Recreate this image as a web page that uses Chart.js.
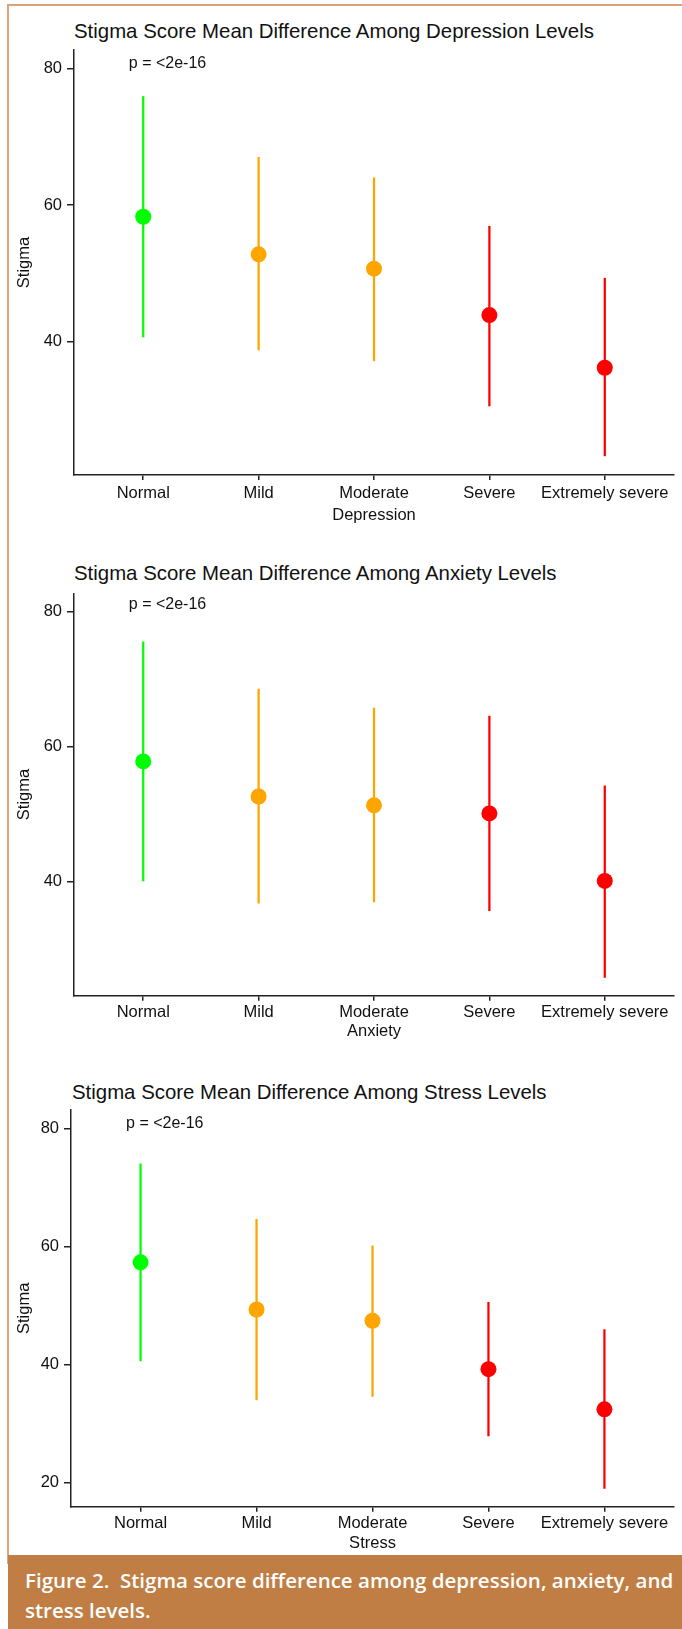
<!DOCTYPE html>
<html>
<head>
<meta charset="utf-8">
<script src="https://cdn.jsdelivr.net/npm/chart.js@4.4.1/dist/chart.umd.min.js"></script>
<style>
html,body{margin:0;padding:0;background:#fff;}
body{width:682px;height:1629px;position:relative;overflow:hidden;font-family:"Liberation Sans",Arial,sans-serif;}
.frame{position:absolute;left:7px;top:4px;width:690px;height:1560px;border-left:2px solid #d9a479;border-top:2px solid #d9a479;box-sizing:border-box;}
.panel{position:absolute;left:0;width:682px;}
.ptitle{position:absolute;font-size:20.4px;line-height:24px;color:#111;white-space:nowrap;}
.caption{position:absolute;left:8px;top:1555px;width:674px;height:74px;box-sizing:border-box;background:#c07e44;color:#fff;font-family:"Open Sans",sans-serif;font-weight:600;font-size:20.5px;line-height:30px;padding:10px 0 0 17px;white-space:pre;}
</style>
</head>
<body>
<div class="frame"></div>
<div class="ptitle" style="left:74px;top:19px;">Stigma Score Mean Difference Among Depression Levels</div>
<div class="panel" style="top:0;height:540px;"><canvas id="c1" width="682" height="540"></canvas></div>
<div class="ptitle" style="left:74px;top:561px;">Stigma Score Mean Difference Among Anxiety Levels</div>
<div class="panel" style="top:540px;height:520px;"><canvas id="c2" width="682" height="520"></canvas></div>
<div class="ptitle" style="left:72px;top:1080px;">Stigma Score Mean Difference Among Stress Levels</div>
<div class="panel" style="top:1060px;height:495px;"><canvas id="c3" width="682" height="495"></canvas></div>
<div class="caption">Figure 2.  Stigma score difference among depression, anxiety, and
stress levels.</div>
<script>
// ---- data ----
const categories = ["Normal", "Mild", "Moderate", "Severe", "Extremely severe"];
const levelColors = ["#00ff00", "#ffa500", "#ffa500", "#ff0000", "#ff0000"];

const depMean = [58.3, 52.8, 50.7, 43.9, 36.2];
const depLow  = [40.7, 38.8, 37.2, 30.6, 23.3];
const depHigh = [75.9, 67.0, 64.0, 56.9, 49.3];

const anxMean = [57.8, 52.6, 51.3, 50.1, 40.1];
const anxLow  = [40.1, 36.8, 37.0, 35.7, 25.8];
const anxHigh = [75.5, 68.5, 65.7, 64.5, 54.2];

const strMean = [57.3, 49.3, 47.4, 39.2, 32.4];
const strLow  = [40.6, 34.0, 34.6, 27.9, 19.0];
const strHigh = [74.0, 64.6, 60.1, 50.5, 45.9];

const depYTicks = [40, 60, 80];
const anxYTicks = [40, 60, 80];
const strYTicks = [20, 40, 60, 80];
const pText = "p = <2e-16";

const FONT = '"Liberation Sans", Arial, sans-serif';
const INK = '#111';
const AXIS = '#222';

const pLabelPlugin = {
  id: 'pLabel',
  afterDatasetsDraw(chart, args, opts) {
    const {ctx, scales: {x, y}} = chart;
    ctx.save();
    ctx.font = '16px ' + FONT;
    ctx.fillStyle = INK;
    ctx.textAlign = 'left';
    ctx.textBaseline = 'middle';
    ctx.fillText(opts.text, x.getPixelForValue(opts.x), y.getPixelForValue(opts.y));
    ctx.restore();
  }
};

function makeChart(id, cfg) {
  const errData = categories.map((c, i) => ({x: i, y: [cfg.low[i], cfg.high[i]]}));
  const meanData = categories.map((c, i) => ({x: i, y: cfg.mean[i]}));
  return new Chart(document.getElementById(id), {
    type: 'bar',
    data: {
      datasets: [
        {
          type: 'scatter',
          data: meanData,
          pointRadius: 8,
          pointBackgroundColor: levelColors,
          pointBorderColor: levelColors,
          pointBorderWidth: 0
        },
        {
          type: 'bar',
          data: errData,
          backgroundColor: levelColors,
          borderWidth: 0,
          barThickness: 1.6,
          grouped: false
        }
      ]
    },
    options: {
      responsive: false,
      animation: false,
      events: [],
      layout: {padding: {top: cfg.top, right: 0, bottom: 0, left: 0}},
      plugins: {
        legend: {display: false},
        tooltip: {enabled: false},
        pLabel: {text: pText, x: -0.125, y: cfg.pY}
      },
      scales: {
        x: {
          type: 'linear',
          min: -0.6,
          max: 4.6,
          offset: false,
          afterFit(s) { s.height = cfg.xHeight; s.paddingLeft = 0; s.paddingRight = 0; },
          afterBuildTicks(s) { s.ticks = categories.map((c, i) => ({value: i})); },
          grid: {display: true, offset: false, drawOnChartArea: false, drawTicks: true, tickLength: 5, color: AXIS, lineWidth: 1.5},
          border: {display: true, color: AXIS, width: 1.5},
          ticks: {
            autoSkip: false, maxRotation: 0, padding: cfg.xPad,
            color: INK, font: {family: FONT, size: 16.5},
            callback: (v) => categories[v]
          },
          title: {display: true, text: cfg.xTitle, color: INK, font: {family: FONT, size: 16.5},
                  padding: {top: 0, bottom: cfg.xTitlePad}}
        },
        y: {
          type: 'linear',
          min: cfg.yMin,
          max: cfg.yMax,
          afterFit(s) { s.width = cfg.yWidth; },
          afterBuildTicks(s) { s.ticks = cfg.yTicks.map(v => ({value: v})); },
          grid: {display: true, drawOnChartArea: false, drawTicks: true, tickLength: 7, color: AXIS, lineWidth: 1.5},
          border: {display: true, color: AXIS, width: 1.5},
          ticks: {padding: 5, color: INK, font: {family: FONT, size: 16.5}},
          title: {display: true, text: 'Stigma', color: INK, font: {family: FONT, size: 16.5},
                  padding: {top: 15, bottom: 0}}
        }
      }
    },
    plugins: [pLabelPlugin]
  });
}

makeChart('c1', {mean: depMean, low: depLow, high: depHigh, yTicks: depYTicks,
  yMin: 20.5, yMax: 82.7, top: 50, xHeight: 65, xPad: 3.2, xTitle: 'Depression', xTitlePad: 14.2,
  yWidth: 74, pY: 80.7});
makeChart('c2', {mean: anxMean, low: anxLow, high: anxHigh, yTicks: anxYTicks,
  yMin: 23.1, yMax: 82.7, top: 53.3, xHeight: 64.3, xPad: 1.4, xTitle: 'Anxiety', xTitlePad: 18.5,
  yWidth: 74, pY: 81.0});
makeChart('c3', {mean: strMean, low: strLow, high: strHigh, yTicks: strYTicks,
  yMin: 15.9, yMax: 83.1, top: 50, xHeight: 48.3, xPad: 1.8, xTitle: 'Stress', xTitlePad: 1.2,
  yWidth: 71, pY: 80.85});
</script>
</body>
</html>
